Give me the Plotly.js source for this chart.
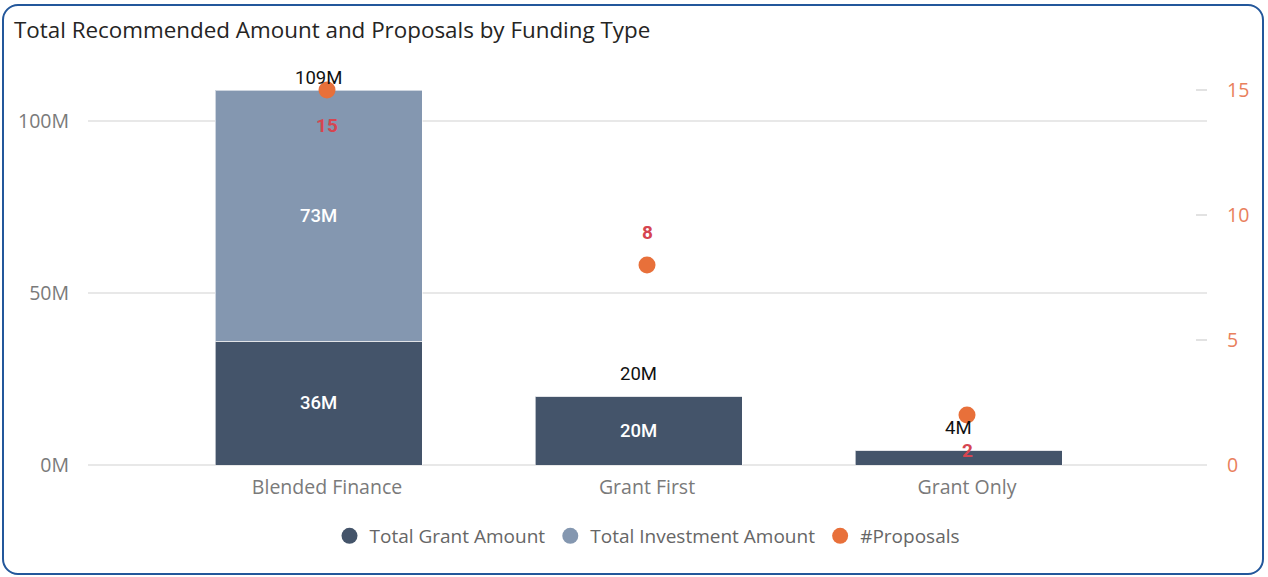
<!DOCTYPE html>
<html>
<head>
<meta charset="utf-8">
<script src="https://cdn.plot.ly/plotly-3.0.1.min.js"></script>
<style>
  html, body { margin:0; padding:0; background:#fff; }
  #wrap { position:relative; width:1268px; height:577px; overflow:hidden; }
  #chart { position:absolute; left:0; top:0; width:1268px; height:577px; }
  #frame { position:absolute; left:2px; top:4px; width:1258px; height:567px;
           border:2px solid #23579B; border-radius:16px; pointer-events:none; }
</style>
</head>
<body>
<div id="wrap">
  <div id="chart"></div>
  <div id="frame"></div>
</div>
<script>
// ---- data (values in millions) ----
const categories = ["Blended Finance", "Grant First", "Grant Only"];
const grantAmount = [36, 20, 4.3];
const investmentAmount = [73, 0, 0];
const proposals = [15, 8, 2];
const leftTickVals = [0, 50, 100];
const leftTickText = ["0M", "50M", "100M"];
const rightTickVals = [0, 5, 10, 15];

// ---- styles ----
const cGrant = "#44546A", cInv = "#8497B0", cProp = "#E8703A", cPropLbl = "#D64550";
const labelFont = "Roboto, 'DejaVu Sans', sans-serif";
const uiFont = "'Open Sans', 'Noto Sans', sans-serif";
const propLabelSide = [-1, 1, -1]; // -1 below, +1 above

const margin = {l:88, r:61, t:65, b:112};
const plotH = 577 - margin.t - margin.b;
const yMax = 116.3, y2Max = 16.0;
const pxPerUnit = plotH / yMax;

const totals = categories.map((c, i) => grantAmount[i] + investmentAmount[i]);
const fmtM = v => Math.round(v) + "M";

const barCommon = {
  type: "bar", x: categories, width: 0.647, offset: -0.35,
  textposition: "inside", insidetextanchor: "middle",
  textfont: {family: labelFont, size: 18.5, color: "#ffffff", weight: 500},
  marker: {line: {color: "rgba(255,255,255,0.6)", width: 1}},
  showlegend: false, hoverinfo: "skip", cliponaxis: false
};

const traces = [
  Object.assign({}, barCommon, {
    name: "Total Grant Amount", y: grantAmount,
    text: grantAmount.map(fmtM),
    marker: Object.assign({}, barCommon.marker, {color: cGrant})
  }),
  Object.assign({}, barCommon, {
    name: "Total Investment Amount", y: investmentAmount,
    text: investmentAmount.map(fmtM),
    marker: Object.assign({}, barCommon.marker, {color: cInv})
  }),
  {
    type: "scatter", mode: "markers", name: "#Proposals",
    x: categories, y: proposals, yaxis: "y2",
    marker: {color: cProp, size: 17}, showlegend: false, cliponaxis: false
  },
  // legend entries (circle symbols)
  {type:"scatter", mode:"markers", name:"Total Grant Amount", x:[null], y:[null],
   marker:{color:cGrant, size:20}, showlegend:true},
  {type:"scatter", mode:"markers", name:"Total Investment Amount", x:[null], y:[null],
   marker:{color:cInv, size:20}, showlegend:true},
  {type:"scatter", mode:"markers", name:"#Proposals", x:[null], y:[null], yaxis:"y2",
   marker:{color:cProp, size:20}, showlegend:true}
];

const annotations = [];
// totals above bars (clamped near the top of the plot)
totals.forEach((t, i) => {
  const topPx = (yMax - t) * pxPerUnit; // distance from plot top
  let shift = 22;
  if (topPx - shift < 13) shift = topPx - 13;
  annotations.push({
    x: categories[i], y: t, xref: "x", yref: "y", text: fmtM(t),
    showarrow: false, yanchor: "middle", yshift: shift, xshift: -9,
    font: {family: labelFont, size: 18.5, color: "#111111"}
  });
});
// proposals labels
proposals.forEach((p, i) => {
  annotations.push({
    x: categories[i], y: p, xref: "x", yref: "y2", text: String(p),
    showarrow: false, yanchor: "middle", yshift: propLabelSide[i] > 0 ? 33 : -35,
    font: {family: labelFont, size: 19, color: cPropLbl, weight: 700}
  });
});

const layout = {
  width: 1268, height: 577, margin: margin,
  paper_bgcolor: "rgba(0,0,0,0)", plot_bgcolor: "rgba(0,0,0,0)",
  barmode: "stack",
  title: {text: "Total Recommended Amount and Proposals by Funding Type",
          x: 14 / 1268, xref: "container", xanchor: "left",
          y: 1 - 30 / 577, yref: "container", yanchor: "middle",
          font: {family: uiFont, size: 22.4, color: "#252423"}, pad: {l: 0, t: 0, b: 0}},
  xaxis: {type: "category", range: [-0.747, 2.75], showgrid: false, zeroline: false,
          showline: false, ticks: "", ticklabelstandoff: 8,
          tickfont: {family: uiFont, size: 19.5, color: "#7A7A7A"}, fixedrange: true},
  yaxis: {range: [0, yMax], tickvals: leftTickVals, ticktext: leftTickText,
          showgrid: true, gridcolor: "#E8E8E8", gridwidth: 1.5,
          zeroline: true, zerolinecolor: "#E8E8E8", zerolinewidth: 1.5,
          showline: false, ticks: "", ticklabelstandoff: 18,
          tickfont: {family: uiFont, size: 19.5, color: "#7A7A7A"}},
  yaxis2: {range: [0, y2Max], overlaying: "y", side: "right", tickvals: rightTickVals,
           showgrid: false, zeroline: false, showline: false,
           ticks: "inside", ticklen: 11, tickcolor: "#E2E2E2", tickwidth: 1.5,
           ticklabelstandoff: 19,
           tickfont: {family: uiFont, size: 19.5, color: "#E9805C"}},
  legend: {orientation: "h", x: 0.5, xanchor: "center", y: -0.13, yanchor: "top",
           traceorder: "normal",
           font: {family: uiFont, size: 19, color: "#666666"},
           itemwidth: 30, tracegroupgap: 0, itemclick: false},
  uniformtext: {mode: "hide", minsize: 15},
  annotations: annotations,
  showlegend: true
};

Plotly.newPlot("chart", traces, layout, {displayModeBar: false, staticPlot: true});
</script>
</body>
</html>
